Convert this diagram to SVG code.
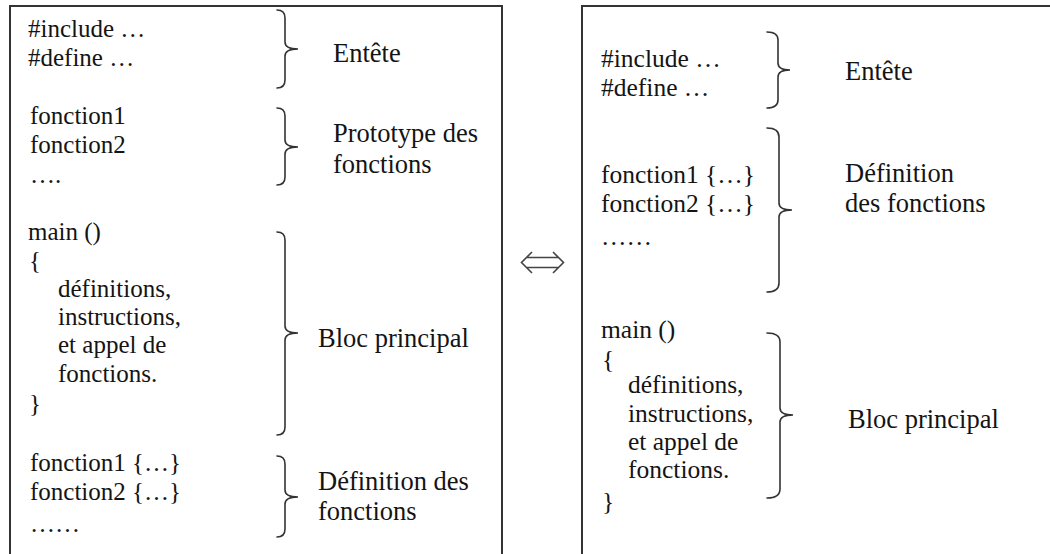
<svg xmlns="http://www.w3.org/2000/svg" width="1050" height="554" viewBox="0 0 1050 554">
<style>
  text { font-family: "Liberation Serif", "Times New Roman", serif; fill: #141414; }
  .cl { font-size: 25px; }
  .ll { font-size: 26.5px; }
  .cr { font-size: 25.5px; }
  .lr { font-size: 26.5px; }
  .frame { fill: none; stroke: #333; stroke-width: 2; }
  .brace { fill: none; stroke: #333; stroke-width: 1.6; stroke-linecap: round; }
  .arrow { fill: none; stroke: #444; stroke-width: 1.6; stroke-linejoin: miter; }
</style>
<rect width="1050" height="554" fill="#fff"/>
<g id="left-panel">
  <rect class="frame" x="10" y="6" width="492" height="560"/>
  <g id="left-entete">
    <text class="cl" x="28" y="37">#include …</text>
    <text class="cl" x="28" y="66">#define …</text>
    <path class="brace" d="M277,10 Q285,10 285,18 L285,42 Q285,49 298,49 Q285,49 285,56 L285,80 Q285,88 277,88"/>
    <text class="ll" x="333" y="62">Entête</text>
  </g>
  <g id="left-prototype">
    <text class="cl" x="30" y="124">fonction1</text>
    <text class="cl" x="30" y="153">fonction2</text>
    <text class="cl" x="30" y="183">….</text>
    <path class="brace" d="M277,108 Q285,108 285,116 L285,140 Q285,147 298,147 Q285,147 285,154 L285,177 Q285,185 277,185"/>
    <text class="ll" x="333" y="142">Prototype des</text>
    <text class="ll" x="333" y="173">fonctions</text>
  </g>
  <g id="left-main">
    <text class="cl" x="28" y="240">main ()</text>
    <text class="cl" x="29" y="269">{</text>
    <text class="cl" x="58" y="297">définitions,</text>
    <text class="cl" x="58" y="325">instructions,</text>
    <text class="cl" x="58" y="353">et appel de</text>
    <text class="cl" x="58" y="382">fonctions.</text>
    <text class="cl" x="29" y="412">}</text>
    <path class="brace" d="M277,232 Q285,232 285,240 L285,326 Q285,333 298,333 Q285,333 285,340 L285,427 Q285,435 277,435"/>
    <text class="ll" x="318" y="347">Bloc principal</text>
  </g>
  <g id="left-definition">
    <text class="cl" x="30" y="471">fonction1 {…}</text>
    <text class="cl" x="30" y="500">fonction2 {…}</text>
    <text class="cl" x="30" y="532">……</text>
    <path class="brace" d="M277,456 Q285,456 285,464 L285,490 Q285,497 298,497 Q285,497 285,504 L285,529 Q285,537 277,537"/>
    <text class="ll" x="318" y="490">Définition des</text>
    <text class="ll" x="318" y="520">fonctions</text>
  </g>
</g>
<g id="connectors">
  <path class="arrow" d="M532,252 L521.5,262.5 L532,273 M527,257.5 L558,257.5 M527,267.5 L558,267.5 M553,252 L563.5,262.5 L553,273"/>
</g>
<g id="right-panel">
  <rect class="frame" x="582" y="6" width="500" height="560"/>
  <g id="right-entete">
    <text class="cr" x="601" y="67">#include …</text>
    <text class="cr" x="601" y="96">#define …</text>
    <path class="brace" d="M767,32 Q778,32 778,40 L778,63 Q778,70 790,70 Q778,70 778,77 L778,100 Q778,108 767,108"/>
    <text class="lr" x="845" y="80">Entête</text>
  </g>
  <g id="right-definition">
    <text class="cr" x="601" y="183">fonction1 {…}</text>
    <text class="cr" x="601" y="212">fonction2 {…}</text>
    <text class="cr" x="601" y="245">……</text>
    <path class="brace" d="M767,128 Q779,128 779,137 L779,203 Q779,210 792,210 Q779,210 779,217 L779,283 Q779,292 767,292"/>
    <text class="lr" x="845" y="182">Définition</text>
    <text class="lr" x="845" y="212">des fonctions</text>
  </g>
  <g id="right-main">
    <text class="cr" x="601" y="338">main ()</text>
    <text class="cr" x="602" y="368">{</text>
    <text class="cr" x="628" y="393">définitions,</text>
    <text class="cr" x="628" y="422">instructions,</text>
    <text class="cr" x="628" y="450">et appel de</text>
    <text class="cr" x="628" y="478">fonctions.</text>
    <text class="cr" x="602" y="510">}</text>
    <path class="brace" d="M767,333 Q780,333 780,342 L780,408 Q780,415 793,415 Q780,415 780,422 L780,489 Q780,498 767,498"/>
    <text class="lr" x="848" y="428">Bloc principal</text>
  </g>
</g>
</svg>
